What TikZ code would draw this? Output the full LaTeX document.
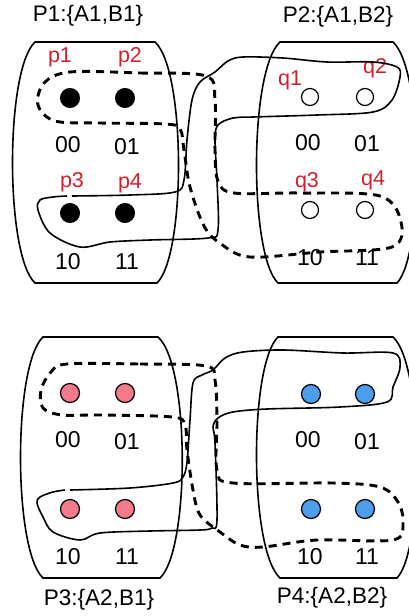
\documentclass[tikz,border=0pt]{standalone}
\usepackage{fontspec}
\setmainfont{Liberation Sans}
\definecolor{pt_red}{RGB}{208, 32, 48}
\definecolor{pt_pink}{RGB}{242, 122, 138}
\definecolor{pt_blue}{RGB}{76, 158, 235}
\tikzstyle{bn}=[circle,fill=black,draw=black,line width=1pt,inner sep=0pt,minimum size=19pt]
\tikzstyle{wn}=[circle,fill=white,draw=black,line width=1.2pt,inner sep=0pt,minimum size=17pt]
\tikzstyle{pn}=[circle,fill=pt_pink,draw=black,line width=1.2pt,inner sep=0pt,minimum size=19pt]
\tikzstyle{un}=[circle,fill=pt_blue,draw=black,line width=1.2pt,inner sep=0pt,minimum size=19pt]
\tikzstyle{lab}=[text=pt_red,inner sep=0pt,font=\fontsize{21.5}{25}\selectfont]
\tikzstyle{bits}=[inner sep=0pt,font=\fontsize{23}{27}\selectfont]
\tikzstyle{ttl}=[inner sep=0pt,font=\fontsize{22.5}{27}\selectfont]
\tikzstyle{barrel}=[line width=1.6pt]
\tikzstyle{grp}=[line width=1.6pt]
\tikzstyle{dgrp}=[line width=2.9pt,dash pattern=on 8pt off 6pt]

\begin{document}
\begin{tikzpicture}[x=1pt,y=-1pt]
    \useasboundingbox (0,0) rectangle (409,616);
    % parties
    \draw[barrel] (35,42) -- (155,42) .. controls (186,70) and (186,255) .. (157,283)
        -- (35,283) .. controls (5,255) and (5,70) .. cycle;
    \draw[barrel] (280,42) -- (393,42) .. controls (424,70) and (424,255) .. (397,283)
        -- (278,283) .. controls (249,255) and (249,70) .. cycle;
    \draw[barrel] (43,337) -- (158,337) .. controls (190,365) and (190,550) .. (160,578)
        -- (43,578) .. controls (13,550) and (13,365) .. cycle;
    \draw[barrel] (278,337) -- (393,337) .. controls (424,365) and (424,550) .. (397,578)
        -- (280,578) .. controls (249,550) and (249,365) .. cycle;
    \node [style=ttl] (t1) at (88,16) {P1:\{A1,B1\}};
    \node [style=ttl] (t2) at (338,17) {P2:\{A1,B2\}};
    \node [style=ttl] (t3) at (99,600) {P3:\{A2,B1\}};
    \node [style=ttl] (t4) at (332,598) {P4:\{A2,B2\}};
    % points
    \node [style=bn] (p1) at (70,98) {};
    \node [style=bn] (p2) at (125,98) {};
    \node [style=bn] (p3) at (70,213) {};
    \node [style=bn] (p4) at (125,213) {};
    \node [style=wn] (q1) at (310,97) {};
    \node [style=wn] (q2) at (365,97) {};
    \node [style=wn] (q3) at (310,210) {};
    \node [style=wn] (q4) at (365,210) {};
    \node [style=pn] (r1) at (70,393) {};
    \node [style=pn] (r2) at (125,393) {};
    \node [style=pn] (r3) at (70,509) {};
    \node [style=pn] (r4) at (125,509) {};
    \node [style=un] (s1) at (311,394) {};
    \node [style=un] (s2) at (365,394) {};
    \node [style=un] (s3) at (311,509) {};
    \node [style=un] (s4) at (365,509) {};
    % names
    \node [style=lab] (p1t) at (60,57) {p1};
    \node [style=lab] (p2t) at (130,57) {p2};
    \node [style=lab] (p3t) at (72,182) {p3};
    \node [style=lab] (p4t) at (130,183) {p4};
    \node [style=lab] (q1t) at (290,80) {q1};
    \node [style=lab] (q2t) at (375,68) {q2};
    \node [style=lab] (q3t) at (307,182) {q3};
    \node [style=lab] (q4t) at (373,180) {q4};
    % bit strings
    \node [style=bits] (p1b) at (68,145) {00};
    \node [style=bits] (p2b) at (127,147) {01};
    \node [style=bits] (p3b) at (68,262) {10};
    \node [style=bits] (p4b) at (127,262) {11};
    \node [style=bits] (q1b) at (308,143) {00};
    \node [style=bits] (q2b) at (367,144) {01};
    \node [style=bits] (q3b) at (310,258) {10};
    \node [style=bits] (q4b) at (367,258) {11};
    \node [style=bits] (r1b) at (68,440) {00};
    \node [style=bits] (r2b) at (127,442) {01};
    \node [style=bits] (r3b) at (68,557) {10};
    \node [style=bits] (r4b) at (127,557) {11};
    \node [style=bits] (s1b) at (308,440) {00};
    \node [style=bits] (s2b) at (367,442) {01};
    \node [style=bits] (s3b) at (310,557) {10};
    \node [style=bits] (s4b) at (367,557) {11};
    % groups, top
    \draw[dgrp] plot[smooth cycle,tension=0.55] coordinates {(70,72) (140,73) (206,76)
        (215,100) (215,150) (218,181) (234,193) (300,193) (380,196) (401,222) (392,247)
        (320,252) (250,257) (221,244) (204,226) (190,187) (184,150) (180,129) (165,124)
        (100,123) (55,121) (38,105) (44,83)};
    \draw[grp] plot[smooth,tension=0.55] coordinates {(72,196) (130,195) (175,192)
        (184,180) (187,140) (192,100) (200,82) (215,72) (228,61) (243,57) (283,58)
        (327,62) (373,62) (397,67) (400,77) (392,100) (373,112) (317,115) (253,117)
        (233,118) (218,125) (215,140) (217,180) (218,230) (208,238) (150,240)
        (110,242) (80,247) (50,233) (38,210) (40,200) (53,197) (67,196)};
    % groups, bottom
    \draw[dgrp] plot[smooth cycle,tension=0.55] coordinates {(67,364) (140,364) (206,366)
        (215,380) (217,420) (217,470) (233,483) (333,483) (380,487) (398,502) (403,523)
        (393,540) (317,540) (263,547) (240,545) (220,532) (200,515) (193,490) (187,450)
        (185,425) (172,417) (100,415) (62,415) (43,408) (41,390) (51,372)};
    \draw[grp] plot[smooth,tension=0.55] coordinates {(70,490) (130,488) (173,483)
        (183,477) (187,462) (190,420) (193,383) (202,375) (213,370) (225,358) (243,352)
        (283,350) (343,353) (393,353) (400,367) (393,387) (387,402) (340,407) (267,409)
        (233,412) (218,418) (213,427) (215,443) (217,520) (212,528) (200,530) (150,531)
        (100,533) (80,540) (53,532) (43,517) (37,503) (40,497) (53,492) (65,490)};
\end{tikzpicture}
\end{document}
